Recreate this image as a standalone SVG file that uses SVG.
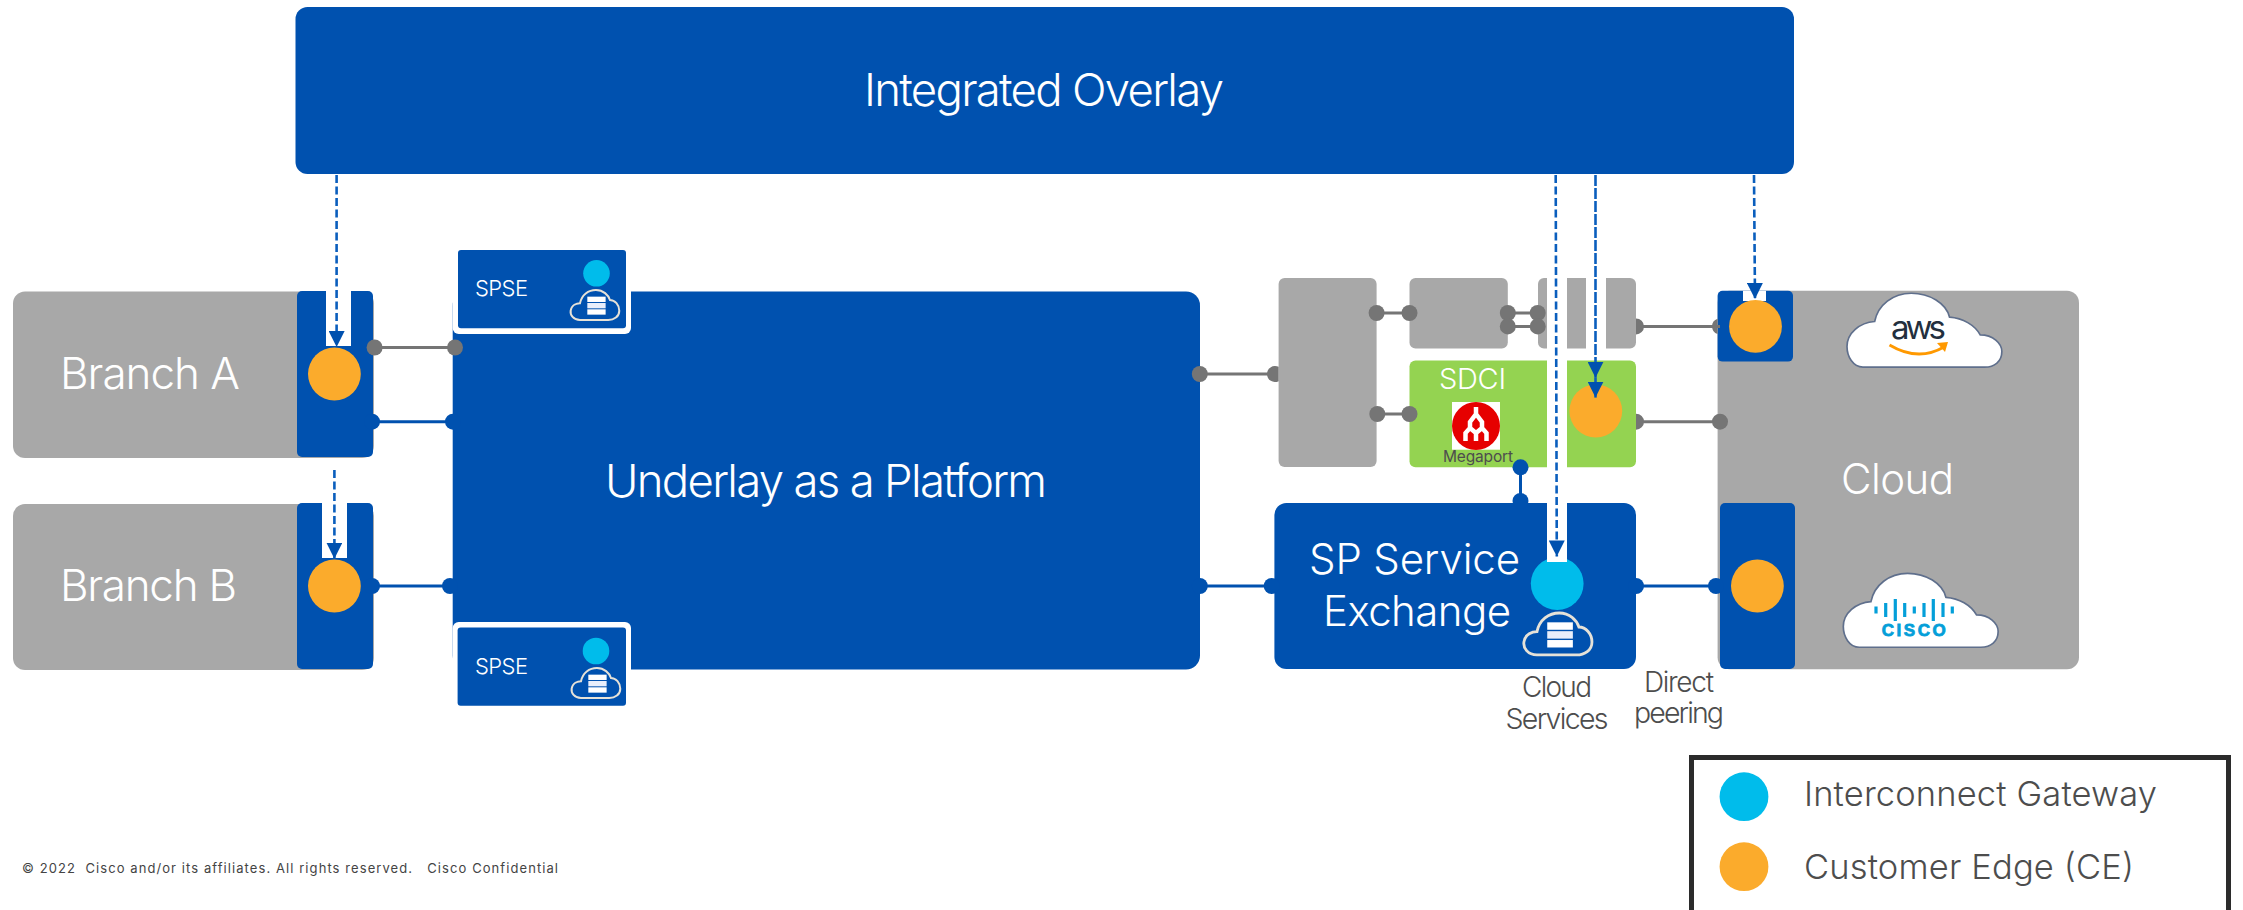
<svg xmlns="http://www.w3.org/2000/svg" xmlns:xlink="http://www.w3.org/1999/xlink" width="2243" height="910" viewBox="0 0 2243 910">
<style>
text{font-family:"Inter","Open Sans","Liberation Sans",sans-serif;font-weight:300}
.b{fill:#0051af}.g{fill:#a8a8a8}.o{fill:#fbab2c}.c{fill:#00bceb}.w{fill:#fff}
.t{fill:#fff}.d{fill:#4d4d4d}
.lg{stroke:#757575;stroke-width:3;fill:none}.lb{stroke:#0051af;stroke-width:3;fill:none}
.dg{fill:#757575}.db{fill:#0051af}
.dash{stroke:#0a5ebd;stroke-width:2.6;stroke-dasharray:8 3.500;fill:none;marker-end:url(#ah)}
.logo{fill:#fff;stroke:#5f6f8c;stroke-width:5}
</style>
<defs>
<marker id="ah" markerUnits="userSpaceOnUse" markerWidth="17" markerHeight="16" refX="16" refY="8" orient="auto"><path d="M0 0L16 8L0 16Z" fill="#0051af"/></marker>
<path id="bigcloud" d="M130 262C100 262 82 230 82 200C82 160 120 128 165 125C175 75 220 40 275 40C330 40 380 70 390 112C430 115 465 135 482 165C520 165 547 190 547 215C547 245 525 262 495 262Z"/>
<g id="dbcloud">
<path d="M30 90C10 90 0 75 2 62C5 45 20 40 30 40C35 15 55 0 78 0C100 0 115 15 120 30C135 30 148 45 148 62C148 80 132 90 115 90Z" fill="none" stroke="#e6e2d8" stroke-width="6"/>
<rect x="52" y="20" width="55" height="16" fill="#fff"/><rect x="52" y="39" width="55" height="16" fill="#e8eefb"/><rect x="52" y="58" width="55" height="16" fill="#fff"/>
</g>
</defs>
<rect width="2243" height="910" fill="#fff"/>

<g id="integrated-overlay"><rect class="b" x="295.500" y="7" width="1498.500" height="167" rx="12"/>
<text class="t" x="864" y="106" font-size="45.500" textLength="360">Integrated Overlay</text></g>

<g id="branch-a"><rect class="g" x="13" y="291.500" width="361" height="166.500" rx="12"/>
<rect class="b" x="297" y="291" width="76" height="166" rx="5"/>
<rect class="w" x="326" y="291" width="25" height="55"/>
<circle class="o" cx="334.400" cy="374" r="26.400"/>
<text class="t" x="60" y="388.500" font-size="44" textLength="180">Branch A</text></g>

<g id="branch-b"><rect class="g" x="13" y="504" width="361" height="166" rx="12"/>
<rect class="b" x="297" y="503" width="76" height="166" rx="5"/>
<rect class="w" x="322" y="503" width="25" height="55"/>
<circle class="o" cx="334.400" cy="586" r="26.400"/>
<text class="t" x="60" y="600.500" font-size="44" textLength="177">Branch B</text></g>

<g id="underlay"><rect class="b" x="452.700" y="291.500" width="747.300" height="378" rx="14"/>
<text class="t" x="605" y="496.500" font-size="45.500" textLength="442">Underlay as a Platform</text></g>

<g id="spse-top"><rect class="w" x="452.700" y="245" width="178.300" height="89" rx="6"/>
<rect class="b" x="458" y="250" width="168" height="78.300" rx="3"/>
<text class="t" x="475" y="296" font-size="22" textLength="53">SPSE</text>
<circle class="c" cx="596.500" cy="273.300" r="13.300"/>
<use xlink:href="#dbcloud" href="#dbcloud" transform="translate(570 290) scale(.333)"/></g>

<g id="spse-bottom"><rect class="w" x="452.700" y="622" width="178.300" height="88" rx="6"/>
<rect class="b" x="457.600" y="627.600" width="168.400" height="78.100" rx="3"/>
<text class="t" x="475" y="673.500" font-size="22" textLength="53">SPSE</text>
<circle class="c" cx="596" cy="651" r="13.300"/>
<use xlink:href="#dbcloud" href="#dbcloud" transform="translate(571 668) scale(.333)"/></g>

<g id="gray-block-1"><rect class="g" x="1278.600" y="278" width="98" height="189" rx="6"/></g>
<g id="gray-block-2"><rect class="g" x="1409.500" y="278" width="98.300" height="70.600" rx="6"/></g>
<g id="gray-block-3"><rect class="g" x="1538" y="278" width="98" height="70.600" rx="6"/>
<rect class="w" x="1586" y="277" width="20" height="73"/></g>

<g id="sdci"><rect x="1409.500" y="360.500" width="226.500" height="106.700" rx="6" fill="#94d351"/>
<text class="t" x="1439" y="389" font-size="29" textLength="67">SDCI</text>
<rect class="w" x="1452" y="402" width="48" height="47.700"/>
<circle cx="1476" cy="426" r="24" fill="#e60000"/>
<path d="M1476 407V414L1470 422V428L1465.500 433V441M1476 414L1482 422V428L1486.500 433V441M1470 428L1476 433L1482 428M1476 433V441" fill="none" stroke="#fff" stroke-width="4.500"/>
<ellipse cx="1476" cy="424" rx="2.500" ry="4" fill="#e60000"/>
<text x="1443" y="462" font-size="15.500" fill="#4d4d4d" style="font-weight:400" textLength="70">Megaport</text>
<circle class="o" cx="1595.800" cy="411" r="26.400"/></g>

<g id="sp-service-exchange"><rect class="b" x="1274.400" y="503" width="361.600" height="166" rx="12"/>
<text class="t" x="1309" y="574" font-size="42" textLength="211">SP Service</text>
<text class="t" x="1323" y="625.700" font-size="42" textLength="188">Exchange</text>
<circle class="c" cx="1557.200" cy="583.600" r="26.400"/>
<use xlink:href="#dbcloud" href="#dbcloud" transform="translate(1523 613) scale(.466)"/></g>

<g id="cloud"><rect class="g" x="1717.600" y="290.800" width="361.400" height="378.500" rx="12"/>
<rect class="b" x="1717.600" y="290.800" width="75.400" height="70.800" rx="5"/>
<rect class="w" x="1743" y="290.800" width="23" height="10.200"/>
<circle class="o" cx="1755.500" cy="326.400" r="26.400"/>
<rect class="b" x="1720" y="503" width="75" height="166" rx="5"/>
<circle class="o" cx="1757.400" cy="586" r="26.400"/>
<text class="t" x="1841" y="493.700" font-size="42" textLength="113">Cloud</text></g>

<g id="aws-logo"><use xlink:href="#bigcloud" href="#bigcloud" class="logo" transform="translate(1819.700 279.900) scale(.333)"/>
<text x="1891" y="339.300" font-size="33" fill="#232f3e" style="font-weight:400" textLength="55">aws</text>
<path d="M1889.500 345Q1918 362 1944 347" fill="none" stroke="#f90" stroke-width="2.800"/>
<path d="M1937 343L1948 342L1945 352Z" fill="#f90"/></g>

<g id="cisco-logo"><use xlink:href="#bigcloud" href="#bigcloud" class="logo" transform="translate(1816 560) scale(.333)"/>
<path d="M1876 606.500v7M1885.700 603v14M1895.300 599v22M1904.700 603v14M1914.300 606.500v7M1924 603v14M1933.300 599v22M1943 603v14M1952.300 606.500v7" stroke="#049fd9" stroke-width="3.200" fill="none"/>
<text x="1881.700" y="636" font-size="17" fill="#049fd9" stroke="#049fd9" stroke-width=".8" style="font-family:'Liberation Sans',sans-serif;font-weight:700" textLength="64">CISCO</text></g>

<g id="notch"><rect class="w" x="1547" y="276" width="20" height="286"/></g>

<g id="connectors">
<path class="lg" d="M374.600 347.500H455M1199.800 374H1275M1376.600 313H1409.500M1377.300 414H1409.500M1507.800 313H1537.700M1507.800 326.400H1537.700M1636 326.400H1720M1636 421.700H1720"/>
<path class="lb" d="M372 421.700H453M372 586H450M1199.800 586H1271.700M1636 586H1716M1520.500 467.300V501"/>
<g class="dg">
<circle cx="374.600" cy="347.500" r="8"/><circle cx="455" cy="347.500" r="8"/><circle cx="1199.800" cy="374" r="8"/>
<path d="M1278.600 366.860A8 8 0 1 0 1278.600 381.140Z"/>
<circle cx="1376.600" cy="313" r="8"/><circle cx="1409.500" cy="313" r="8"/><circle cx="1377.300" cy="414" r="8"/><circle cx="1409.500" cy="414" r="8"/>
<circle cx="1507.800" cy="313" r="8"/><circle cx="1537.700" cy="313" r="8"/><circle cx="1507.800" cy="326.400" r="8"/><circle cx="1537.700" cy="326.400" r="8"/>
<path d="M1636 318.400A8 8 0 0 1 1636 334.400ZM1636 413.700A8 8 0 0 1 1636 429.700ZM1717.600 318.800A8 8 0 0 0 1717.600 334Z"/>
<circle cx="1720" cy="421.700" r="8"/></g>
<g class="db">
<circle cx="372" cy="421.700" r="8"/><circle cx="453" cy="421.700" r="8"/><circle cx="372" cy="586" r="8"/><circle cx="450" cy="586" r="8"/>
<circle cx="1199.800" cy="586" r="8"/><circle cx="1271.700" cy="586" r="8"/><circle cx="1636" cy="586" r="8"/><circle cx="1716" cy="586" r="8"/>
<circle cx="1520.500" cy="467.300" r="8"/><circle cx="1520.500" cy="501" r="8"/></g>
<path class="dash" d="M336.600 175V347"/>
<path class="dash" d="M334.400 470V558.700"/>
<path class="dash" d="M1555.700 175L1556.800 556.400"/>
<path class="dash" d="M1595.500 175V377.700" style="stroke-dasharray:11 2"/>
<path class="dash" d="M1595.500 377.700V397.600" style="stroke-dasharray:none"/>
<path class="dash" d="M1754 175L1755 299"/>
</g>

<g id="labels">
<text class="d" x="1557" y="697" font-size="28" text-anchor="middle" textLength="70">Cloud</text>
<text class="d" x="1557" y="729" font-size="28.500" text-anchor="middle" textLength="103">Services</text>
<text class="d" x="1679" y="691.500" font-size="28" text-anchor="middle" textLength="70">Direct</text>
<text class="d" x="1679" y="723" font-size="28.500" text-anchor="middle" textLength="90">peering</text>
<text x="22" y="873" font-size="13" fill="#444" xml:space="preserve" textLength="536" style="font-weight:400">© 2022  Cisco and/or its affiliates. All rights reserved.   Cisco Confidential</text>
</g>

<g id="legend"><path d="M1691.500 912V757.500H2228.500V912" fill="none" stroke="#2b2b2b" stroke-width="5"/>
<circle class="c" cx="1744" cy="796.700" r="24.400"/>
<circle class="o" cx="1744" cy="866.700" r="24.400"/>
<text class="d" x="1804" y="805.700" font-size="34.500" textLength="353">Interconnect Gateway</text>
<text class="d" x="1804" y="879" font-size="34.500" textLength="330">Customer Edge (CE)</text></g>
</svg>
